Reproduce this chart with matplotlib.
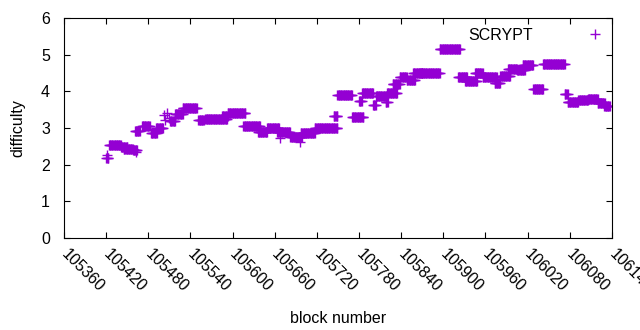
import numpy as np
import matplotlib
matplotlib.use("Agg")
import matplotlib.pyplot as plt
import matplotlib.transforms as mtransforms

plt.rcParams["font.family"] = ["Liberation Sans", "DejaVu Sans"]

# runs of consecutive blocks mined at (roughly) the same difficulty
run_start = [105420, 105424, 105441, 105445, 105458, 105461, 105471, 105484,
             105491, 105511, 105518, 105529, 105551, 105561, 105585, 105593,
             105615, 105636, 105649, 105663, 105682, 105697, 105717, 105744,
             105749, 105770, 105780, 105784, 105800, 105804, 105818, 105820,
             105828, 105838, 105848, 105857, 105867, 105895, 105921, 105931,
             105945, 105956, 105973, 105981, 105992, 106005, 106013, 106028,
             106042, 106073, 106077, 106092, 106106, 106120, 106129]
run_end = [105423, 105441, 105450, 105458, 105464, 105468, 105482, 105492,
           105501, 105518, 105529, 105549, 105559, 105592, 105593, 105618,
           105639, 105649, 105666, 105682, 105699, 105717, 105749, 105749,
           105770, 105786, 105784, 105800, 105804, 105820, 105821, 105834,
           105838, 105848, 105860, 105870, 105895, 105924, 105934, 105948,
           105956, 105976, 105981, 105995, 106005, 106016, 106028, 106042,
           106073, 106077, 106092, 106106, 106120, 106130, 106137]
run_diff = [2.19, 2.55, 2.48, 2.43, 2.39, 2.92, 3.05, 2.86,
            3.00, 3.20, 3.38, 3.55, 3.22, 3.26, 3.33, 3.41,
            3.05, 2.90, 2.99, 2.90, 2.75, 2.86, 3.01, 3.33,
            3.89, 3.31, 3.74, 3.97, 3.63, 3.87, 3.71, 3.95,
            4.21, 4.38, 4.31, 4.50, 4.49, 5.17, 4.39, 4.28,
            4.50, 4.38, 4.23, 4.42, 4.62, 4.58, 4.72, 4.06,
            4.76, 3.94, 3.72, 3.76, 3.78, 3.67, 3.59]

# isolated blocks
single_block = [105421, 105462, 105502, 105504, 105507, 105510, 105667, 105696]
single_diff = [2.26, 2.35, 3.35, 3.22, 3.41, 3.27, 2.73, 2.62]

blocks = []
diffs = []
for s, e, d in zip(run_start, run_end, run_diff):
    for b in range(s, e + 1):
        blocks.append(b)
        diffs.append(d)
blocks += single_block
diffs += single_diff

fig = plt.figure(figsize=(6.4, 3.3), dpi=100)
ax = fig.add_axes([0.1, 0.279, 0.856, 0.666])

ax.plot(blocks, diffs, linestyle="none", marker="+", markersize=6.5,
        markeredgewidth=1, color="#9400d3", label="SCRYPT")

ax.set_xlim(105360, 106140)
ax.set_ylim(0, 6)
ax.set_xticks(np.arange(105360, 106141, 60))
ax.set_yticks(np.arange(0, 7, 1))
ax.tick_params(direction="in", top=True, right=True, length=4, labelsize=11.5)
ax.tick_params(axis="y", pad=10)
ax.tick_params(axis="x", pad=6)

shift = mtransforms.ScaledTranslation(5 / 100, 0, fig.dpi_scale_trans)
for lab in ax.get_xticklabels():
    lab.set_rotation(-45)
    lab.set_ha("left")
    lab.set_va("top")
    lab.set_rotation_mode("anchor")
    lab.set_transform(lab.get_transform() + shift)

ax.set_xlabel("block number", fontsize=11.5, labelpad=12)
ax.set_ylabel("difficulty", fontsize=11.5, labelpad=11)

ax.legend(loc="upper right", frameon=False, markerfirst=False, fontsize=11.5,
          handlelength=2.0, handletextpad=2.9, borderpad=0, borderaxespad=0,
          bbox_to_anchor=(611 / 640, 1 - 28 / 330),
          bbox_transform=fig.transFigure)

fig.savefig("out.png", dpi=100)
